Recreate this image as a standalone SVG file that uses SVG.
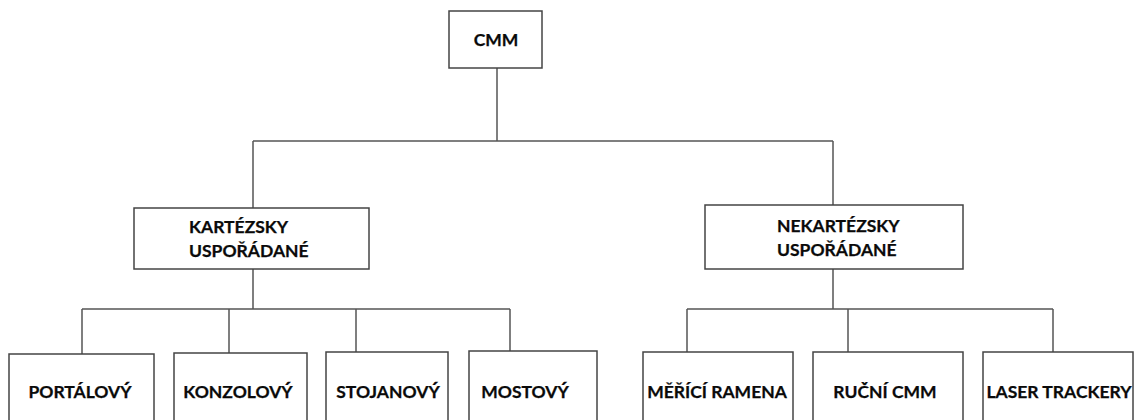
<svg xmlns="http://www.w3.org/2000/svg" width="1138" height="420" viewBox="0 0 1138 420">
<style>
.box{fill:#fff;stroke:#444;stroke-width:1.5}
.ln{fill:none;stroke:#555;stroke-width:1.5}
.t{font-family:Lato,"Open Sans","Liberation Sans",sans-serif;font-weight:bold;font-size:17.5px;fill:#0a0a0a;stroke:#0a0a0a;stroke-width:0.25}
</style>
<rect width="1138" height="420" fill="#fff"/>
<g id="connectors">
<path class="ln" d="M497 68V141M253 141H833M253 141V208M833 141V205"/>
<path class="ln" d="M253 269V309M82 309H510M82 309V354M229 309V353M356 309V352M510 309V351"/>
<path class="ln" d="M833 269V309M687 309H1053M687 309V352M848 309V352M1053 309V352"/>
</g>
<g id="n-cmm"><rect class="box" x="449" y="11" width="93" height="57"/><text class="t" x="496" y="46" text-anchor="middle">CMM</text></g>
<g id="n-kart"><rect class="box" x="134" y="208" width="235" height="61"/><text class="t" x="189" y="233">KARTÉZSKY</text><text class="t" x="189" y="257">USPOŘÁDANÉ</text></g>
<g id="n-nekart"><rect class="box" x="705" y="205" width="258" height="64"/><text class="t" x="777" y="232">NEKARTÉZSKY</text><text class="t" x="777" y="256">USPOŘÁDANÉ</text></g>
<g id="n-portal"><rect class="box" x="9" y="354" width="145" height="80"/><text class="t" x="80" y="398" text-anchor="middle">PORTÁLOVÝ</text></g>
<g id="n-konzol"><rect class="box" x="174" y="353" width="133" height="80"/><text class="t" x="238" y="398" text-anchor="middle">KONZOLOVÝ</text></g>
<g id="n-stojan"><rect class="box" x="326" y="352" width="122" height="80"/><text class="t" x="388" y="398" text-anchor="middle">STOJANOVÝ</text></g>
<g id="n-most"><rect class="box" x="469" y="351" width="128" height="80"/><text class="t" x="525" y="398" text-anchor="middle">MOSTOVÝ</text></g>
<g id="n-ramena"><rect class="box" x="643" y="352" width="150" height="80"/><text class="t" x="717" y="398" text-anchor="middle">MĚŘÍCÍ RAMENA</text></g>
<g id="n-rucni"><rect class="box" x="813" y="352" width="150" height="80"/><text class="t" x="885" y="398" text-anchor="middle">RUČNÍ CMM</text></g>
<g id="n-laser"><rect class="box" x="983" y="352" width="150" height="80"/><text class="t" x="1059" y="398" text-anchor="middle">LASER TRACKERY</text></g>
</svg>
